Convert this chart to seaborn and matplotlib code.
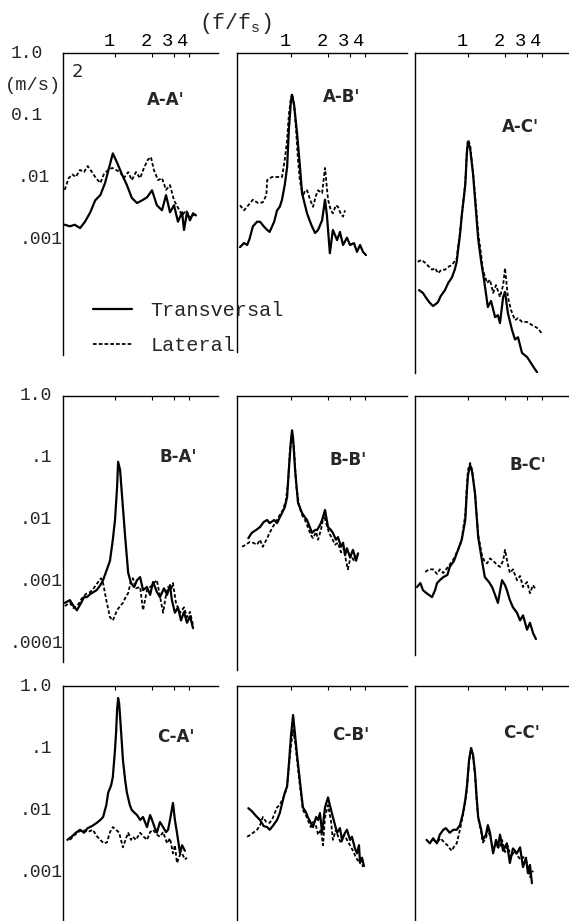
import matplotlib
matplotlib.use("Agg")
import matplotlib.pyplot as plt
import matplotlib.transforms as mtransforms
import pandas as pd
import seaborn as sns

# ---- values (f/fs, PSD in (m/s)^2) ----
# A-A'
AA_T_F = [0.39, 0.43, 0.47, 0.52, 0.57, 0.63, 0.69, 0.76, 0.83, 0.91, 0.96, 1.04, 1.14, 1.25, 1.37, 1.51,
          1.66, 1.82, 2.0, 2.19, 2.41, 2.60, 2.80, 3.02, 3.25, 3.51, 3.64, 3.85, 4.07, 4.31, 4.55]
AA_T_P = [1.7e-3, 1.6e-3, 1.7e-3, 1.5e-3, 1.9e-3, 2.7e-3, 4.2e-3, 5.1e-3, 8.0e-3, 1.6e-2, 2.4e-2, 1.7e-2,
          1.1e-2, 7.4e-3, 4.6e-3, 3.8e-3, 4.2e-3, 4.7e-3, 6.1e-3, 3.5e-3, 2.9e-3, 5.1e-3, 2.7e-3, 3.5e-3,
          1.9e-3, 2.7e-3, 1.4e-3, 2.7e-3, 2.0e-3, 2.6e-3, 2.4e-3]
AA_L_F = [0.39, 0.42, 0.45, 0.48, 0.52, 0.56, 0.60, 0.65, 0.70, 0.76, 0.81, 0.88, 0.95, 1.02, 1.10, 1.18,
          1.28, 1.37, 1.48, 1.60, 1.72, 1.85, 1.96, 2.07, 2.24, 2.41, 2.60, 2.80, 3.02, 3.25, 3.51, 3.78,
          4.07, 4.47]
AA_L_P = [6.2e-3, 9.6e-3, 1.1e-2, 1.0e-2, 1.3e-2, 1.2e-2, 1.5e-2, 1.2e-2, 9.6e-3, 8.0e-3, 1.1e-2, 1.3e-2,
          1.4e-2, 1.3e-2, 1.2e-2, 9.6e-3, 1.2e-2, 8.9e-3, 1.2e-2, 9.6e-3, 1.4e-2, 1.9e-2, 2.1e-2, 1.3e-2,
          8.9e-3, 9.6e-3, 6.2e-3, 7.4e-3, 4.2e-3, 3.2e-3, 2.4e-3, 2.9e-3, 2.2e-3, 2.5e-3]

# A-B'
AB_T_F = [0.385, 0.415, 0.44, 0.46, 0.49, 0.53, 0.56, 0.60, 0.64, 0.67, 0.73, 0.77, 0.81, 0.845, 0.89,
          0.93, 0.96, 1.0, 1.02, 1.06, 1.12, 1.18, 1.23, 1.30, 1.35, 1.43, 1.48, 1.57, 1.66, 1.79, 1.89,
          1.96, 2.07, 2.19, 2.37, 2.50, 2.65, 2.85, 3.02, 3.25, 3.44, 3.64, 3.85, 4.07]
AB_T_P = [7.4e-4, 8.6e-4, 8.0e-4, 1.0e-3, 1.6e-3, 1.9e-3, 1.9e-3, 1.6e-3, 1.4e-3, 1.3e-3, 1.9e-3, 2.9e-3,
          3.3e-3, 4.3e-3, 7.5e-3, 1.45e-2, 5.7e-2, 0.17, 0.21, 0.145, 5.1e-2, 1.55e-2, 5.5e-3, 3.5e-3,
          2.6e-3, 1.9e-3, 1.6e-3, 1.25e-3, 1.4e-3, 2.0e-3, 4.3e-3, 2.4e-3, 5.9e-4, 1.4e-3, 9.6e-4, 1.3e-3,
          8.0e-4, 1.05e-3, 8.0e-4, 8.6e-4, 6.2e-4, 8.0e-4, 6.2e-4, 5.5e-4]
AB_L_F = [0.385, 0.415, 0.45, 0.49, 0.54, 0.59, 0.63, 0.64, 0.70, 0.77, 0.845, 0.89, 0.93, 0.96, 1.0,
          1.02, 1.06, 1.10, 1.14, 1.18, 1.25, 1.30, 1.35, 1.43, 1.51, 1.60, 1.66, 1.79, 1.89, 2.0, 2.11,
          2.19, 2.32, 2.41, 2.55, 2.65, 2.75]
AB_L_P = [3.5e-3, 2.9e-3, 3.5e-3, 4.3e-3, 3.8e-3, 3.9e-3, 5.1e-3, 8.9e-3, 1.0e-2, 1.0e-2, 1.0e-2, 1.9e-2,
          4.0e-2, 0.10, 0.19, 0.22, 0.145, 5.7e-2, 1.9e-2, 8.9e-3, 4.8e-3, 6.1e-3, 6.1e-3, 4.3e-3, 3.3e-3,
          5.1e-3, 6.1e-3, 5.5e-3, 1.4e-2, 4.3e-3, 2.9e-3, 2.6e-3, 3.5e-3, 3.3e-3, 2.5e-3, 2.3e-3, 2.9e-3]

# A-C'
AC_T_F = [0.40, 0.43, 0.46, 0.49, 0.52, 0.55, 0.57, 0.60, 0.65, 0.69, 0.74, 0.78, 0.81, 0.83, 0.86, 0.89,
          0.95, 0.98, 1.0, 1.04, 1.10, 1.16, 1.21, 1.28, 1.35, 1.45, 1.54, 1.66, 1.75, 1.82, 1.93, 2.0,
          2.11, 2.28, 2.41, 2.55, 2.75, 3.02, 3.25, 3.45, 3.64]
AC_T_P = [1.5e-4, 1.35e-4, 1.1e-4, 9.3e-5, 8.3e-5, 9.0e-5, 9.6e-5, 1.2e-4, 1.5e-4, 1.95e-4, 2.4e-4, 3.2e-4,
          4.3e-4, 6.6e-4, 1.15e-3, 2.4e-3, 7.4e-3, 2.5e-2, 3.7e-2, 2.9e-2, 1.1e-2, 2.9e-3, 1.0e-3, 4.3e-4,
          2.2e-4, 8.0e-5, 1.0e-4, 5.5e-5, 5.9e-5, 4.4e-5, 1.16e-4, 1.4e-4, 6.4e-5, 3.4e-5, 2.4e-5, 2.6e-5,
          1.45e-5, 1.25e-5, 1.0e-5, 8.3e-6, 7.1e-6]
AC_L_F = [0.39, 0.42, 0.45, 0.48, 0.51, 0.54, 0.57, 0.61, 0.65, 0.70, 0.74, 0.78, 0.81, 0.83, 0.86, 0.89,
          0.95, 0.98, 1.0, 1.04, 1.10, 1.16, 1.21, 1.28, 1.32, 1.43, 1.51, 1.60, 1.69, 1.82, 1.93, 2.0,
          2.11, 2.24, 2.41, 2.55, 2.75, 3.02, 3.31, 3.64, 4.0]
AC_L_P = [4.3e-4, 4.6e-4, 4.1e-4, 3.6e-4, 3.2e-4, 3.4e-4, 2.8e-4, 3.2e-4, 3.2e-4, 3.6e-4, 3.8e-4, 4.4e-4,
          4.9e-4, 7.4e-4, 1.25e-3, 2.4e-3, 8.0e-3, 2.7e-2, 4.0e-2, 3.3e-2, 1.15e-2, 3.5e-3, 1.25e-3, 5.5e-4,
          3.2e-4, 1.95e-4, 2.2e-4, 1.35e-4, 1.8e-4, 1.16e-4, 1.8e-4, 3.4e-4, 1.16e-4, 7.1e-5, 4.9e-5,
          5.3e-5, 4.6e-5, 4.6e-5, 4.1e-5, 3.7e-5, 3.0e-5]

# B-A'
BA_T_F = [0.39, 0.43, 0.46, 0.49, 0.53, 0.56, 0.59, 0.63, 0.67, 0.71, 0.76, 0.80, 0.86, 0.91, 0.96, 1.0,
          1.04, 1.06, 1.10, 1.14, 1.21, 1.28, 1.35, 1.43, 1.51, 1.60, 1.69, 1.82, 1.93, 2.04, 2.19, 2.32,
          2.50, 2.65, 2.80, 2.90, 3.07, 3.25, 3.44, 3.64, 3.85, 4.07, 4.31]
BA_T_P = [4.6e-4, 5.1e-4, 4.1e-4, 3.5e-4, 4.6e-4, 5.7e-4, 5.7e-4, 6.4e-4, 6.9e-4, 7.4e-4, 8.9e-4, 1.07e-3,
          1.6e-3, 2.2e-3, 4.8e-3, 1.0e-2, 3.4e-2, 8.7e-2, 6.4e-2, 2.5e-2, 5.3e-3, 1.4e-3, 9.6e-4, 8.3e-4,
          1.07e-3, 1.2e-3, 7.4e-4, 8.3e-4, 6.2e-4, 1.0e-3, 6.9e-4, 5.7e-4, 7.9e-4, 6.2e-4, 8.9e-4, 5.1e-4,
          3.2e-4, 3.9e-4, 2.4e-4, 3.3e-4, 2.2e-4, 2.8e-4, 1.8e-4]
BA_L_F = [0.39, 0.43, 0.46, 0.50, 0.54, 0.58, 0.63, 0.67, 0.73, 0.77, 0.80, 0.85, 0.91, 0.96, 1.04, 1.10,
          1.16, 1.23, 1.28, 1.35, 1.40, 1.48, 1.60, 1.69, 1.82, 1.93, 2.07, 2.19, 2.32, 2.46, 2.60, 2.70,
          2.85, 2.96, 3.13, 3.38, 3.64, 3.85, 4.07, 4.31]
BA_L_P = [4.1e-4, 4.6e-4, 3.8e-4, 4.3e-4, 5.5e-4, 6.4e-4, 6.9e-4, 7.9e-4, 1.0e-3, 1.15e-3, 9.6e-4, 5.1e-4,
          2.7e-4, 2.4e-4, 3.5e-4, 4.1e-4, 4.6e-4, 5.9e-4, 6.6e-4, 1.07e-3, 1.15e-3, 7.9e-4, 8.3e-4, 3.5e-4,
          7.4e-4, 8.3e-4, 9.6e-4, 1.07e-3, 5.9e-4, 3.2e-4, 6.2e-4, 8.3e-4, 7.4e-4, 9.6e-4, 4.6e-4, 3.2e-4,
          3.9e-4, 2.7e-4, 3.3e-4, 2.0e-4]

# B-B'
BB_T_F = [0.45, 0.48, 0.52, 0.56, 0.60, 0.64, 0.67, 0.73, 0.77, 0.81, 0.845, 0.89, 0.93, 0.96, 1.0, 1.02,
          1.04, 1.08, 1.14, 1.23, 1.30, 1.35, 1.43, 1.48, 1.57, 1.63, 1.72, 1.79, 1.89, 2.0, 2.11, 2.19,
          2.32, 2.41, 2.55, 2.65, 2.75, 2.85, 3.02, 3.19, 3.38, 3.51]
BB_T_P = [5.1e-3, 6.2e-3, 6.9e-3, 7.7e-3, 9.3e-3, 1.0e-2, 8.9e-3, 1.0e-2, 8.9e-3, 1.1e-2, 1.3e-2, 1.6e-2,
          2.35e-2, 6.4e-2, 0.195, 0.28, 0.21, 6.4e-2, 1.9e-2, 1.3e-2, 1.1e-2, 1.0e-2, 7.5e-3, 6.2e-3,
          6.9e-3, 6.9e-3, 8.3e-3, 1.0e-2, 1.45e-2, 7.7e-3, 6.9e-3, 6.2e-3, 4.8e-3, 5.3e-3, 3.7e-3, 4.3e-3,
          2.7e-3, 3.5e-3, 2.5e-3, 3.3e-3, 2.2e-3, 2.9e-3]
BB_L_F = [0.40, 0.43, 0.46, 0.49, 0.53, 0.56, 0.59, 0.64, 0.67, 0.71, 0.77, 0.81, 0.86, 0.91, 0.95, 0.98,
          1.02, 1.06, 1.10, 1.16, 1.23, 1.30, 1.37, 1.45, 1.51, 1.60, 1.66, 1.75, 1.85, 1.93, 2.04, 2.15,
          2.28, 2.41, 2.55, 2.70, 2.80, 2.90, 3.07, 3.25, 3.44]
BB_L_P = [3.7e-3, 4.0e-3, 4.4e-3, 4.3e-3, 4.0e-3, 4.8e-3, 3.7e-3, 5.1e-3, 6.2e-3, 7.7e-3, 1.0e-2, 1.2e-2,
          1.45e-2, 2.1e-2, 4.4e-2, 0.135, 0.25, 0.135, 3.7e-2, 1.75e-2, 1.2e-2, 1.0e-2, 7.7e-3, 5.7e-3,
          5.1e-3, 6.4e-3, 4.8e-3, 6.9e-3, 1.2e-2, 8.9e-3, 6.2e-3, 5.1e-3, 4.0e-3, 4.3e-3, 3.0e-3, 3.5e-3,
          2.2e-3, 1.6e-3, 2.7e-3, 2.2e-3, 2.9e-3]

# B-C'
BC_T_F = [0.385, 0.41, 0.43, 0.46, 0.51, 0.54, 0.56, 0.59, 0.63, 0.68, 0.71, 0.77, 0.81, 0.86, 0.89, 0.95,
          0.98, 1.0, 1.04, 1.08, 1.14, 1.21, 1.30, 1.37, 1.48, 1.57, 1.66, 1.75, 1.89, 2.0, 2.07, 2.19,
          2.32, 2.50, 2.65, 2.80, 3.02, 3.19, 3.38, 3.57]
BC_T_P = [8.3e-4, 9.6e-4, 7.4e-4, 6.6e-4, 5.7e-4, 7.4e-4, 9.6e-4, 1.07e-3, 1.2e-3, 1.3e-3, 1.75e-3, 2.2e-3,
          2.9e-3, 4.0e-3, 4.8e-3, 1.0e-2, 3.0e-2, 5.3e-2, 7.7e-2, 6.0e-2, 2.7e-2, 5.3e-3, 2.2e-3, 1.2e-3,
          1.0e-3, 8.3e-4, 6.2e-4, 4.6e-4, 1.07e-3, 8.9e-4, 7.4e-4, 5.1e-4, 3.9e-4, 3.2e-4, 2.4e-4, 2.9e-4,
          1.7e-4, 2.2e-4, 1.5e-4, 1.2e-4]
BC_L_F = [0.45, 0.48, 0.52, 0.56, 0.59, 0.63, 0.68, 0.71, 0.77, 0.81, 0.86, 0.89, 0.95, 0.98, 1.0, 1.04,
          1.08, 1.14, 1.21, 1.30, 1.37, 1.43, 1.51, 1.60, 1.72, 1.82, 1.93, 2.0, 2.11, 2.19, 2.32, 2.50,
          2.65, 2.80, 3.02, 3.19, 3.38, 3.57]
BC_L_P = [1.45e-3, 1.6e-3, 1.6e-3, 1.35e-3, 1.6e-3, 1.4e-3, 1.7e-3, 1.9e-3, 2.4e-3, 3.0e-3, 3.8e-3, 5.1e-3,
          1.2e-2, 3.7e-2, 6.4e-2, 8.3e-2, 6.4e-2, 2.7e-2, 5.7e-3, 2.7e-3, 2.1e-3, 2.0e-3, 2.4e-3, 2.2e-3,
          1.9e-3, 1.75e-3, 2.2e-3, 3.3e-3, 1.9e-3, 1.4e-3, 1.6e-3, 1.07e-3, 1.25e-3, 8.3e-4, 1.0e-3,
          6.6e-4, 8.9e-4, 7.4e-4]

# C-A'
CA_T_F = [0.41, 0.45, 0.48, 0.52, 0.56, 0.60, 0.65, 0.71, 0.76, 0.80, 0.85, 0.88, 0.93, 0.96, 1.0, 1.02,
          1.04, 1.06, 1.08, 1.10, 1.14, 1.16, 1.21, 1.25, 1.32, 1.37, 1.45, 1.51, 1.60, 1.69, 1.82, 1.93,
          2.0, 2.11, 2.19, 2.32, 2.46, 2.60, 2.70, 2.80, 2.96, 3.07, 3.19, 3.38, 3.51, 3.70]
CA_T_P = [3.3e-3, 3.8e-3, 4.3e-3, 4.8e-3, 4.3e-3, 5.1e-3, 5.5e-3, 6.2e-3, 6.9e-3, 7.7e-3, 1.2e-2, 1.9e-2,
          2.5e-2, 3.4e-2, 9.3e-2, 0.175, 0.41, 0.64, 0.53, 0.32, 0.11, 6.4e-2, 3.0e-2, 1.9e-2, 1.2e-2,
          1.0e-2, 8.9e-3, 8.3e-3, 6.9e-3, 7.7e-3, 5.3e-3, 8.3e-3, 6.9e-3, 5.1e-3, 4.3e-3, 6.4e-3, 5.3e-3,
          4.4e-3, 4.8e-3, 6.9e-3, 1.3e-2, 6.9e-3, 4.3e-3, 2.0e-3, 2.7e-3, 2.2e-3]
CA_L_F = [0.43, 0.46, 0.50, 0.55, 0.60, 0.66, 0.71, 0.76, 0.81, 0.86, 0.91, 0.96, 1.02, 1.08, 1.16, 1.23,
          1.28, 1.35, 1.40, 1.48, 1.60, 1.69, 1.82, 1.93, 2.04, 2.19, 2.32, 2.46, 2.65, 2.80, 2.96, 3.07,
          3.19, 3.38, 3.51, 3.70, 3.85]
CA_L_P = [3.3e-3, 3.8e-3, 4.4e-3, 4.8e-3, 4.4e-3, 4.8e-3, 3.8e-3, 3.3e-3, 2.9e-3, 3.0e-3, 4.4e-3, 5.3e-3,
          4.8e-3, 4.3e-3, 2.5e-3, 3.5e-3, 4.3e-3, 3.3e-3, 3.7e-3, 3.3e-3, 4.3e-3, 3.8e-3, 3.3e-3, 4.4e-3,
          4.8e-3, 4.0e-3, 3.7e-3, 4.4e-3, 2.9e-3, 3.5e-3, 2.0e-3, 2.7e-3, 1.4e-3, 1.9e-3, 2.0e-3, 1.6e-3,
          1.7e-3]

# C-B'
CB_T_F = [0.45, 0.48, 0.52, 0.56, 0.60, 0.64, 0.67, 0.71, 0.77, 0.81, 0.86, 0.89, 0.93, 0.96, 1.0, 1.04,
          1.08, 1.12, 1.18, 1.25, 1.32, 1.37, 1.45, 1.51, 1.60, 1.66, 1.72, 1.79, 1.89, 2.0, 2.07, 2.15,
          2.28, 2.37, 2.50, 2.60, 2.75, 2.85, 3.02, 3.13, 3.31, 3.44, 3.57, 3.64, 3.78, 3.92]
CB_T_P = [1.07e-2, 9.6e-3, 8.0e-3, 6.9e-3, 5.5e-3, 5.3e-3, 4.8e-3, 5.5e-3, 6.9e-3, 8.9e-3, 1.45e-2, 1.9e-2,
          2.4e-2, 5.3e-2, 0.16, 0.34, 0.16, 7.7e-2, 3.0e-2, 1.1e-2, 9.3e-3, 7.7e-3, 6.2e-3, 5.3e-3, 7.7e-3,
          6.9e-3, 8.9e-3, 4.3e-3, 1.1e-2, 1.6e-2, 1.2e-2, 8.9e-3, 5.7e-3, 4.3e-3, 5.1e-3, 3.3e-3, 4.3e-3,
          4.8e-3, 3.3e-3, 3.7e-3, 2.4e-3, 2.0e-3, 2.7e-3, 1.4e-3, 1.7e-3, 1.25e-3]
CB_L_F = [0.44, 0.47, 0.50, 0.53, 0.56, 0.59, 0.63, 0.67, 0.71, 0.77, 0.81, 0.86, 0.89, 0.93, 0.96, 1.0,
          1.04, 1.08, 1.12, 1.18, 1.25, 1.32, 1.37, 1.45, 1.51, 1.60, 1.66, 1.75, 1.82, 1.89, 2.0, 2.11,
          2.19, 2.32, 2.41, 2.55, 2.70, 2.85, 3.02, 3.19, 3.38, 3.57, 3.71, 3.85]
CB_L_P = [3.7e-3, 4.0e-3, 4.4e-3, 4.8e-3, 5.7e-3, 7.7e-3, 6.4e-3, 6.2e-3, 7.4e-3, 1.1e-2, 1.2e-2, 1.55e-2,
          1.75e-2, 2.5e-2, 4.8e-2, 0.11, 0.195, 0.125, 6.4e-2, 2.5e-2, 1.0e-2, 8.3e-3, 6.9e-3, 5.3e-3,
          6.4e-3, 5.5e-3, 4.0e-3, 4.8e-3, 2.7e-3, 7.7e-3, 1.2e-2, 6.9e-3, 3.3e-3, 4.8e-3, 3.8e-3, 2.9e-3,
          4.0e-3, 3.3e-3, 2.7e-3, 2.2e-3, 1.7e-3, 1.45e-3, 1.75e-3, 1.2e-3]

# C-C'
CC_T_F = [0.46, 0.49, 0.52, 0.56, 0.59, 0.63, 0.66, 0.71, 0.76, 0.81, 0.86, 0.91, 0.95, 0.98, 1.02, 1.06,
          1.10, 1.14, 1.18, 1.21, 1.28, 1.32, 1.40, 1.45, 1.51, 1.60, 1.69, 1.75, 1.82, 1.93, 2.07, 2.19,
          2.32, 2.50, 2.65, 2.80, 2.96, 3.07, 3.19, 3.31]
CC_T_P = [3.3e-3, 2.9e-3, 3.5e-3, 2.9e-3, 4.0e-3, 4.8e-3, 5.1e-3, 4.3e-3, 4.8e-3, 4.8e-3, 5.7e-3, 8.9e-3,
          1.45e-2, 2.4e-2, 6.4e-2, 0.10, 7.7e-2, 4.0e-2, 1.45e-2, 7.7e-3, 4.8e-3, 3.3e-3, 4.0e-3, 5.7e-3,
          4.3e-3, 2.0e-3, 3.3e-3, 2.5e-3, 4.0e-3, 2.2e-3, 2.9e-3, 1.4e-3, 2.4e-3, 2.0e-3, 2.5e-3, 1.2e-3,
          1.7e-3, 9.6e-4, 1.3e-3, 6.6e-4]
CC_L_F = [0.52, 0.56, 0.60, 0.64, 0.68, 0.71, 0.74, 0.78, 0.81, 0.86, 0.91, 0.95, 0.98, 1.02, 1.06, 1.10,
          1.14, 1.18, 1.21, 1.28, 1.32, 1.40, 1.45, 1.51, 1.60, 1.69, 1.79, 1.89, 2.0, 2.11, 2.24, 2.37,
          2.50, 2.65, 2.80, 3.02, 3.19, 3.38]
CC_L_P = [3.3e-3, 3.0e-3, 3.5e-3, 3.0e-3, 2.7e-3, 2.4e-3, 2.2e-3, 2.7e-3, 2.9e-3, 4.8e-3, 8.3e-3, 1.35e-2,
          2.1e-2, 6.0e-2, 9.6e-2, 7.2e-2, 3.7e-2, 1.3e-2, 7.4e-3, 4.4e-3, 3.0e-3, 3.5e-3, 4.8e-3, 3.8e-3,
          2.2e-3, 2.9e-3, 2.4e-3, 3.3e-3, 2.1e-3, 2.6e-3, 1.7e-3, 2.2e-3, 1.9e-3, 1.6e-3, 1.75e-3, 1.4e-3,
          8.3e-4, 1.05e-3]

PANEL_NAMES = ["A-A'", "A-B'", "A-C'", "B-A'", "B-B'", "B-C'", "C-A'", "C-B'", "C-C'"]
TRANS_SERIES = [(AA_T_F, AA_T_P), (AB_T_F, AB_T_P), (AC_T_F, AC_T_P),
                (BA_T_F, BA_T_P), (BB_T_F, BB_T_P), (BC_T_F, BC_T_P),
                (CA_T_F, CA_T_P), (CB_T_F, CB_T_P), (CC_T_F, CC_T_P)]
LAT_SERIES = [(AA_L_F, AA_L_P), (AB_L_F, AB_L_P), (AC_L_F, AC_L_P),
              (BA_L_F, BA_L_P), (BB_L_F, BB_L_P), (BC_L_F, BC_L_P),
              (CA_L_F, CA_L_P), (CB_L_F, CB_L_P), (CC_L_F, CC_L_P)]
TOP_TICKS = [1, 2, 3, 4]
Y_TICK_LABELS = [
    [(1.0, "1.0"), (0.1, "0.1"), (0.01, ".01"), (0.001, ".001")],
    [(1.0, "1.0"), (0.1, ".1"), (0.01, ".01"), (0.001, ".001"), (0.0001, ".0001")],
    [(1.0, "1.0"), (0.1, ".1"), (0.01, ".01"), (0.001, ".001")],
]

# ---- layout, in pixels of the 569x921 canvas ----
W, H = 569, 921
COL_LEFT = [63, 237, 415]
COL_RIGHT = [218, 407, 569]
COL_F1 = [115, 291, 468]          # pixel of f/fs = 1
ROW_TOP = [53, 396, 686]
PANEL_BOTTOM = [[355, 352, 373], [662, 670, 655], [921, 921, 921]]
PX_DEC_X = 123
PX_DEC_Y = 62
LABEL_POS = [(166, 100), (342, 97), (520, 127), (178, 457), (348, 460), (528, 465),
             (176, 737), (351, 735), (522, 733)]
MONO = "Liberation Mono"


def fig_xy(px, py):
    return px / W, 1 - py / H


def make_axes(fig, row, col):
    left, right = COL_LEFT[col], COL_RIGHT[col]
    top, bottom = ROW_TOP[row], PANEL_BOTTOM[row][col]
    ax = fig.add_axes([left / W, 1 - bottom / H, (right - left) / W, (bottom - top) / H])
    ax.set_xscale("log")
    ax.set_yscale("log")
    f1 = COL_F1[col]
    ax.set_xlim(10 ** ((left - f1) / PX_DEC_X), 10 ** ((right - f1) / PX_DEC_X))
    ax.set_ylim(10 ** (-(bottom - top) / PX_DEC_Y), 1.0)
    for side in ("right", "bottom"):
        ax.spines[side].set_visible(False)
    for side in ("left", "top"):
        ax.spines[side].set_linewidth(1.0)
        ax.spines[side].set_color("black")
    ax.xaxis.set_ticks_position("top")
    ax.set_xticks(TOP_TICKS)
    ax.minorticks_off()
    ax.set_yticks([v for v, _ in Y_TICK_LABELS[row]])
    ax.set_yticklabels([])
    ax.tick_params(which="both", direction="in", length=3, width=0.8, colors="black", pad=2)
    if row == 0:
        ax.set_xticklabels([str(t) for t in TOP_TICKS], fontfamily=MONO, fontsize=13.5)
        shift = mtransforms.ScaledTranslation(-6 / 100, 0, fig.dpi_scale_trans)
        for lab in ax.get_xticklabels():
            lab.set_transform(lab.get_transform() + shift)
    else:
        ax.set_xticklabels([])
    ax.set_xlabel("")
    ax.set_ylabel("")
    ax.grid(False)
    return ax


def main() -> None:
    sns.set_theme(style="white")
    plt.rcParams["font.family"] = ["DejaVu Sans"]
    plt.rcParams["mathtext.fontset"] = "custom"
    plt.rcParams["mathtext.rm"] = MONO
    plt.rcParams["mathtext.it"] = MONO

    fig = plt.figure(figsize=(W / 100, H / 100), dpi=100)
    fig.patch.set_facecolor("white")

    handles = None
    for i, name in enumerate(PANEL_NAMES):
        row, col = divmod(i, 3)
        ax = make_axes(fig, row, col)
        tf, tp = TRANS_SERIES[i]
        lf, lp = LAT_SERIES[i]
        trans = pd.DataFrame({"f": tf, "psd": tp})
        lat = pd.DataFrame({"f": lf, "psd": lp})
        sns.lineplot(data=lat, x="f", y="psd", ax=ax, color="black", lw=1.3,
                     linestyle=(0, (2.0, 1.2)), sort=False, estimator=None,
                     label="Lateral", legend=False)
        sns.lineplot(data=trans, x="f", y="psd", ax=ax, color="black", lw=1.6,
                     sort=False, estimator=None, label="Transversal", legend=False)
        ax.set_xlabel("")
        ax.set_ylabel("")
        lx, ly = LABEL_POS[i]
        fig.text(*fig_xy(lx, ly), name, ha="center", va="center",
                 fontsize=12, fontweight="bold", family="DejaVu Sans")
        if i == 0:
            h, l = ax.get_legend_handles_labels()
            handles = dict(zip(l, h))
        if col == 0:
            tr = mtransforms.blended_transform_factory(fig.transFigure, ax.transData)
            for val, txt in Y_TICK_LABELS[row]:
                if row == 0 and txt in ("1.0", "0.1"):
                    right = 43
                elif row == 0 and txt == ".01":
                    right = 50
                elif len(txt) >= 4:
                    right = 63
                else:
                    right = 52
                ax.text(right / W, val, txt, transform=tr, ha="right", va="center",
                        fontfamily=MONO, fontsize=13, clip_on=False)

    # units and axis caption
    fig.text(*fig_xy(5, 86), "(m/s)", ha="left", va="center", fontfamily=MONO, fontsize=13.5)
    fig.text(*fig_xy(77, 72), "2", ha="center", va="center", fontsize=13)
    fig.text(*fig_xy(199, 24), r"(f/f$_\mathrm{s}$)", ha="left", va="center",
             fontfamily=MONO, fontsize=15.5)

    fig.legend([handles["Transversal"], handles["Lateral"]], ["Transversal", "Lateral"],
               loc="center left", bbox_to_anchor=fig_xy(93, 328), frameon=False,
               prop={"family": MONO, "size": 14.5}, handlelength=1.95, handletextpad=0.9,
               labelspacing=0.8, borderpad=0, borderaxespad=0)

    fig.savefig("out.png", dpi=100, facecolor="white")
    plt.close(fig)


if __name__ == "__main__":
    main()
